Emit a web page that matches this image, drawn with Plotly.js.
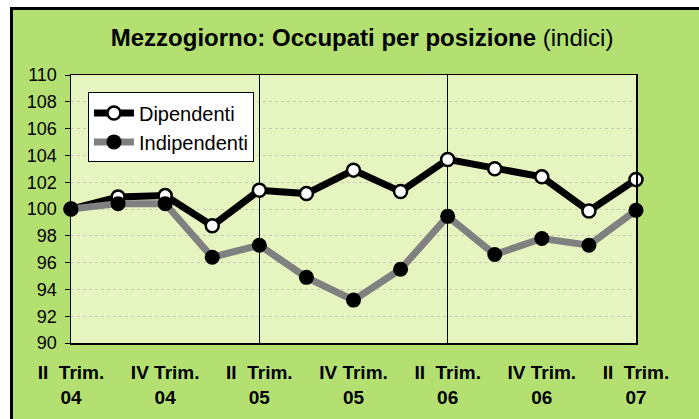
<!DOCTYPE html>
<html>
<head>
<meta charset="utf-8">
<script src="https://cdn.plot.ly/plotly-3.0.1.min.js"></script>
<style>
  html, body { margin:0; padding:0; background:#ffffff; width:699px; height:419px; overflow:hidden; }
  #bg { position:absolute; left:10px; top:7px; width:686px; height:409px; background:#B3E071;
        border-left:3px solid #000; border-top:3px solid #000; }
  #chart { position:absolute; left:0; top:0; width:699px; height:419px; }
</style>
</head>
<body>
<div id="bg"></div>
<div id="chart"></div>
<script>
// Data
const quarters = ["II Trim. 04","III Trim. 04","IV Trim. 04","I Trim. 05","II Trim. 05","III Trim. 05","IV Trim. 05",
                  "I Trim. 06","II Trim. 06","III Trim. 06","IV Trim. 06","I Trim. 07","II Trim. 07"];
const dipendenti   = [100.0, 100.9, 101.0, 98.75, 101.4, 101.15, 102.9, 101.3, 103.7, 103.0, 102.4, 99.85, 102.2];
const indipendenti = [100.0, 100.4, 100.4, 96.4, 97.3, 94.9, 93.2, 95.5, 99.45, 96.6, 97.8, 97.3, 99.9];
const tickIdx   = [0, 2, 4, 6, 8, 10, 12];
const tickLabels = ["II  Trim.<br>04","IV Trim.<br>04","II  Trim.<br>05","IV Trim.<br>05","II  Trim.<br>06","IV Trim.<br>06","II  Trim.<br>07"];
const yearGridIdx = [4, 8];

const xIdx = quarters.map((_, i) => i);
const font = "Liberation Sans, Arial, sans-serif";

const traces = [
  { x: xIdx, y: dipendenti, name: "Dipendenti", type: "scatter", mode: "lines+markers",
    line: { color: "#000000", width: 7 },
    marker: { color: "#ffffff", size: 13, line: { color: "#000000", width: 2.5 } },
    cliponaxis: false, hoverinfo: "skip" },
  { x: xIdx, y: indipendenti, name: "Indipendenti", type: "scatter", mode: "lines+markers",
    line: { color: "#808080", width: 7 },
    marker: { color: "#000000", size: 15, line: { color: "#000000", width: 0 } },
    cliponaxis: false, hoverinfo: "skip" },
  // invisible trace on secondary axis to show year gridlines
  { x: [0, 12], y: [90, 90], xaxis: "x2", yaxis: "y", type: "scatter", mode: "markers",
    marker: { opacity: 0 }, showlegend: false, hoverinfo: "skip" }
];

const layout = {
  width: 699, height: 419,
  margin: { l: 71, r: 63, t: 75, b: 76 },
  paper_bgcolor: "rgba(0,0,0,0)",
  plot_bgcolor: "#E6F5BF",
  font: { family: font, color: "#000000", size: 18 },
  title: {
    text: "<b>Mezzogiorno: Occupati per posizione</b> (indici)",
    font: { family: font, size: 24, color: "#000000" },
    x: 0.518, xanchor: "center", xref: "container",
    y: 0.91, yanchor: "middle", yref: "container"
  },
  showlegend: true,
  legend: {
    x: 0.030, y: 0.935, xanchor: "left", yanchor: "top",
    bgcolor: "#ffffff", bordercolor: "#000000", borderwidth: 1,
    font: { family: font, size: 20, color: "#000000" },
    itemwidth: 40, tracegroupgap: 0
  },
  xaxis: {
    type: "linear", range: [0, 12], fixedrange: true,
    tickmode: "array", tickvals: tickIdx, ticktext: tickLabels,
    tickfont: { family: font, size: 19, color: "#000000", weight: "bold" },
    showgrid: false, zeroline: false,
    showline: true, linecolor: "#000000", linewidth: 1.5, mirror: true,
    ticks: "", ticklabelstandoff: 12
  },
  xaxis2: {
    overlaying: "x", type: "linear", range: [0, 12], matches: "x",
    tickmode: "array", tickvals: yearGridIdx, showticklabels: false,
    showgrid: true, gridcolor: "#000000", gridwidth: 1, zeroline: false, showline: false, ticks: ""
  },
  yaxis: {
    range: [90, 110], dtick: 2, tick0: 90, fixedrange: true,
    tickfont: { family: font, size: 18, color: "#000000" },
    showgrid: true, gridcolor: "#c5ccb5", griddash: "dot", gridwidth: 1,
    zeroline: false, showline: true, linecolor: "#000000", linewidth: 1.5, mirror: true,
    ticks: "outside", ticklen: 5, tickcolor: "#000000", ticklabelstandoff: 4
  }
};

Plotly.newPlot("chart", traces, layout, { displayModeBar: false, staticPlot: true });
</script>
</body>
</html>
